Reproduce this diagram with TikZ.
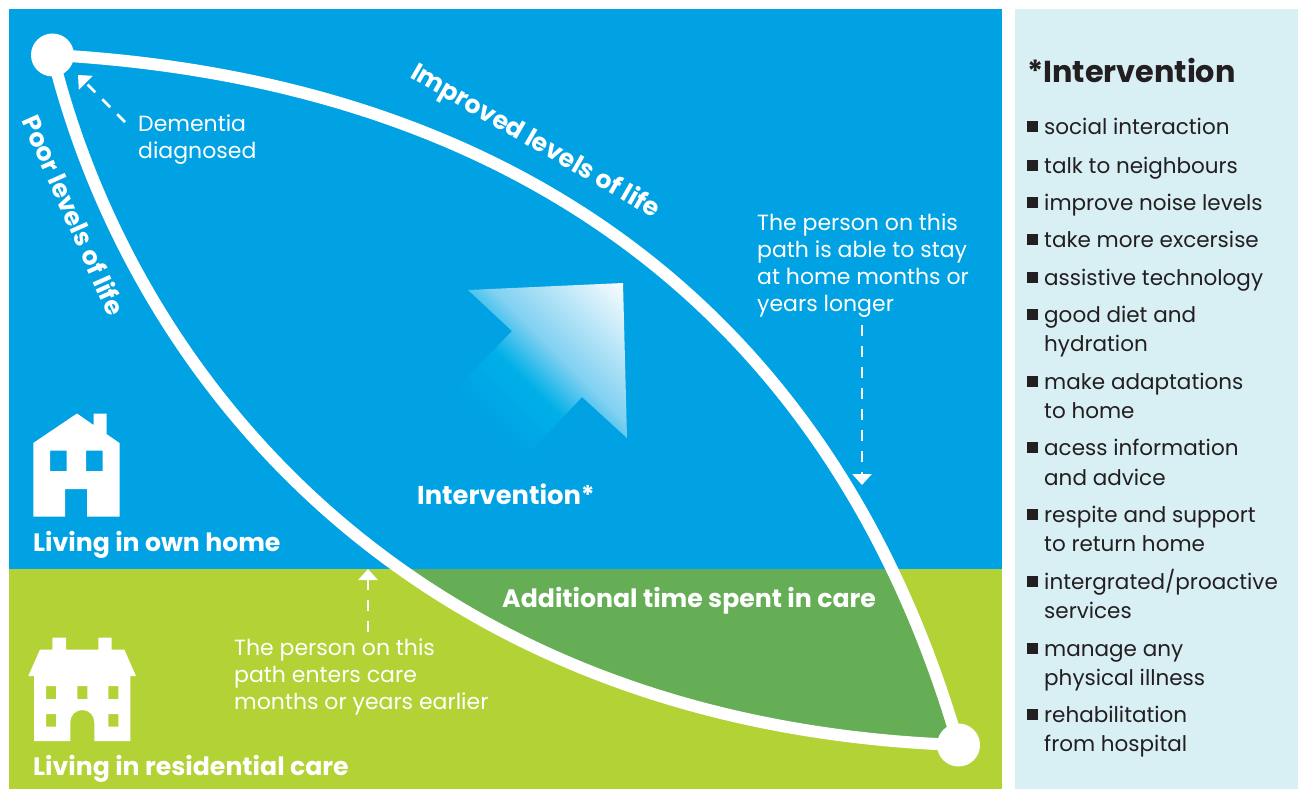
\documentclass[tikz,border=0pt]{standalone}
\usepackage{fontspec}
\setmainfont{Poppins}
\usetikzlibrary{arrows.meta,backgrounds}
\definecolor{skyblue}{HTML}{00A2E3}
\definecolor{limegreen}{HTML}{B2D235}
\definecolor{caregreen}{HTML}{65AE55}
\definecolor{panelblue}{HTML}{D8EFF4}
\definecolor{inkblack}{HTML}{231F20}
\definecolor{glowblue}{HTML}{00B0E8}
\pgfdeclareverticalshading{arrowfade}{100bp}{color(0bp)=(skyblue); color(32bp)=(skyblue); color(47bp)=(glowblue); color(58bp)=(skyblue!50!white); color(86bp)=(white); color(100bp)=(white)}
\tikzset{
	bodytext/.style={text=white, inner sep=0pt, align=left, anchor=north west, font=\fontsize{22}{26.7}\selectfont},
	boldtext/.style={text=white, inner sep=0pt, anchor=base west, font=\fontsize{25.2}{28}\selectfont\bfseries},
	itemtext/.style={text=inkblack, inner sep=0pt, anchor=base west, font=\fontsize{21.5}{24}\selectfont},
	endpoint/.style={circle, fill=white, inner sep=0pt, minimum size=43pt},
	pathline/.style={draw=white, line width=12pt},
	dashline/.style={draw=white, line width=2.7pt, dash pattern=on 11pt off 10pt, -{Triangle[width=19pt,length=11pt]}}
}
\begin{document}
\begin{tikzpicture}[x=1pt, y=-1pt]
	\useasboundingbox (0, 0) rectangle (1298, 789);
	\node[endpoint] (onset) at (52.5, 55) {};
	\node[endpoint] (finish) at (958.5, 745) {};
	\coordinate (upa) at (500, 80);
	\coordinate (upb) at (830, 300);
	\coordinate (lowa) at (130, 370);
	\coordinate (lowb) at (405, 725);
	\begin{scope}[on background layer]
		\fill[skyblue] (9, 9) rectangle (1002, 569);
		\fill[limegreen] (9, 569) rectangle (1002, 789);
		\fill[panelblue] (1015, 9) rectangle (1298, 789);
		\begin{scope}
			\clip (onset.center) .. controls (upa) and (upb) .. (finish.center) .. controls (lowb) and (lowa) .. (onset.center);
			\fill[caregreen] (9, 569) rectangle (1002, 789);
		\end{scope}
	\end{scope}
	\draw[pathline] (onset.center) .. controls (upa) and (upb) .. (finish.center);
	\draw[pathline] (onset.center) .. controls (lowa) and (lowb) .. (finish.center);
	% arrow
	\shade[shading=arrowfade, shading angle=-45] (468, 290) -- (623, 283) -- (627, 438) -- (582, 397) -- (515, 468) -- (445, 400) -- (512, 331) -- cycle;
	% own home
	\fill[white, even odd rule] (33.3, 443) -- (77, 413.5) -- (93.5, 425) -- (93.5, 413.5) -- (106.5, 413.5) -- (106.5, 434) -- (119.5, 443) -- (119.5, 516.5) -- (87, 516.5) -- (87, 489) -- (65, 489) -- (65, 516.5) -- (33.3, 516.5) -- cycle
		(50, 450.5) rectangle (66.5, 471)
		(86, 450.5) rectangle (102.5, 471);
	% residential care
	\fill[white, even odd rule] (28.3, 676) -- (40, 649.5) -- (52.3, 649.5) -- (52.3, 637.5) -- (66, 637.5) -- (66, 649.5) -- (98.3, 649.5) -- (98.3, 637.5) -- (111.7, 637.5) -- (111.7, 649.5) -- (124.3, 649.5) -- (136, 676) -- (130.3, 676) -- (130.3, 741) -- (94.3, 741) -- (94.3, 722) arc (0:-180:12) -- (70.3, 741) -- (34, 741) -- (34, 676) -- cycle
		(46, 686) rectangle (56, 699)
		(77.3, 686) rectangle (87.3, 699)
		(108.3, 686) rectangle (118.3, 699)
		(46, 714) rectangle (56, 726.7)
		(108.3, 714) rectangle (118.3, 726.7);
	\node[boldtext] (ownhome) at (33, 551) {Living in own home};
	\node[boldtext] (residential) at (33, 775) {Living in residential care};
	\node[boldtext, font=\fontsize{25.8}{28}\selectfont\bfseries] (intervene) at (417, 504) {Intervention*};
	\node[boldtext] (extracare) at (502, 607) {Additional time spent in care};
	\node[boldtext, anchor=center, rotate=-30] (improved) at (535, 142) {Improved levels of life};
	\node[boldtext, anchor=center, rotate=-66] (poor) at (74, 215) {Poor levels of life};
	\node[bodytext] (diagnosed) at (138, 115) {Dementia\\diagnosed};
	\node[bodytext] (stayhome) at (757, 214) {The person on this\\path is able to stay\\at home months or\\years longer};
	\node[bodytext] (entercare) at (234, 639) {The person on this\\path enters care\\months or years earlier};
	\coordinate (diagstart) at (125, 122);
	\coordinate (diagtip) at (78, 75);
	\coordinate (staystart) at (862, 325);
	\coordinate (staytip) at (862, 485);
	\coordinate (carestart) at (368, 632);
	\coordinate (caretip) at (368, 569);
	\draw[dashline] (diagstart) -- (diagtip);
	\draw[dashline] (staystart) -- (staytip);
	\draw[dashline] (carestart) -- (caretip);
	% panel
	\node[boldtext, text=inkblack, font=\fontsize{30.3}{36}\selectfont\bfseries] (paneltitle) at (1027, 83) {*Intervention};
	\foreach \y/\txt in {135/social interaction, 173/talk to neighbours, 210/improve noise levels, 247/take more excersise, 285/assistive technology, 322/good diet and, 389/make adaptations, 455/acess information, 522/respite and support, 589/{intergrated/proactive}, 656/manage any, 722/rehabilitation}
	{
		\node[fill=inkblack, inner sep=0pt, minimum size=11pt] (bullet\y) at (1032.5, \y-8) {};
		\node[itemtext] (item\y) at (1044, \y) {\txt};
	}
	\foreach \y/\txt in {351/hydration, 418/to home, 485/and advice, 551/to return home, 618/services, 685/physical illness, 751/from hospital}
		\node[itemtext] (item\y) at (1044, \y) {\txt};
\end{tikzpicture}
\end{document}
